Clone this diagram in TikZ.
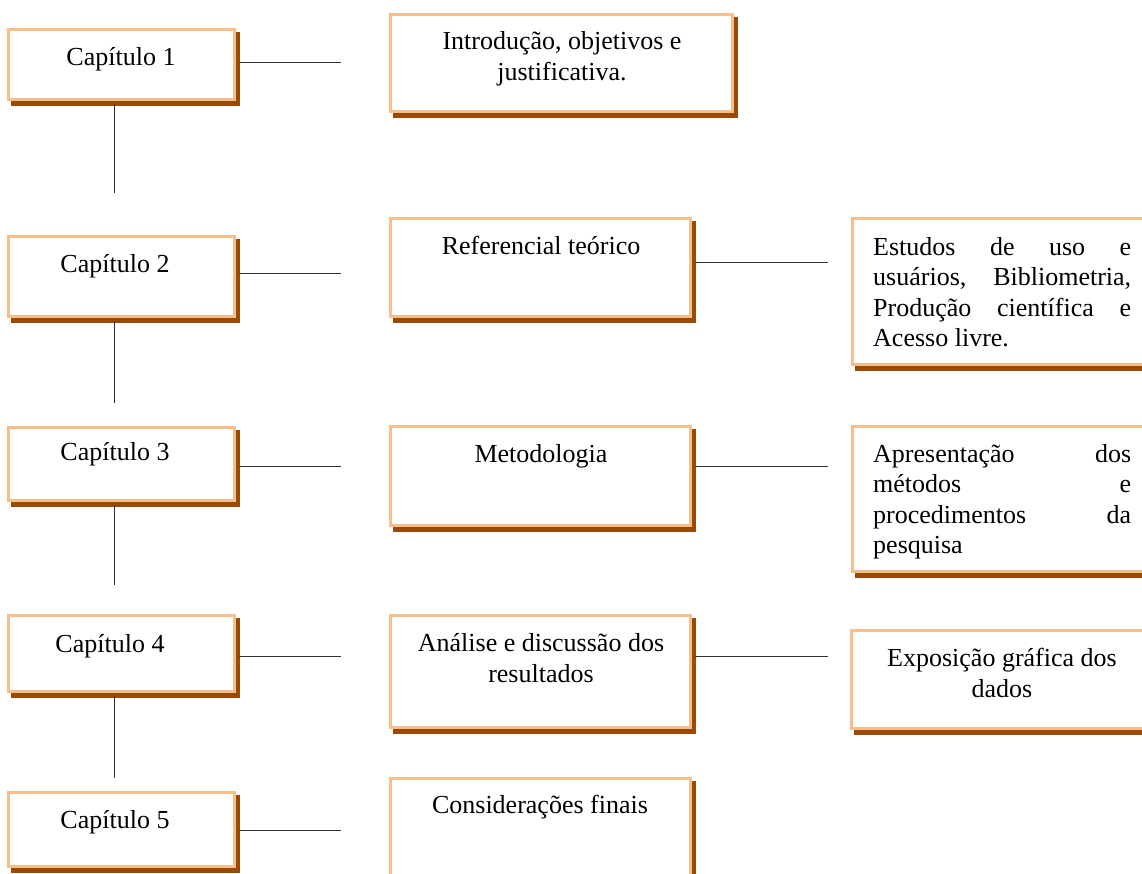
\documentclass[tikz,border=0pt]{standalone}
\usepackage{fontspec}
\setmainfont{Liberation Serif}
\definecolor{bordc}{HTML}{F7BD8A}
\definecolor{shadc}{HTML}{9A4A04}
\definecolor{linec}{HTML}{333333}
\tikzset{
  cbox/.style={draw=bordc, line width=3pt, fill=white, inner sep=0pt, outer sep=0pt},
  txt/.style={inner sep=0pt, font=\fontsize{26}{30.5}\selectfont, text=black},
  jtxt/.style={txt, text width=258pt, align=justify},
  conn/.style={draw=linec, line width=1pt}
}
\newcommand\cbx[5]{%
  \fill[shadc] (#2+4,#3+4) rectangle (#4+4,#5+5);
  \node[cbox, minimum width={#4-#2-3}, minimum height={#5-#3-3}] (#1) at ({(#2+#4)/2},{(#3+#5)/2}) {};
}
\begin{document}
\begin{tikzpicture}[x=1pt,y=-1pt]
\useasboundingbox (0,0) rectangle (1142,873);
% boxes
\cbx{c1}{7}{28}{236}{101}
\cbx{c2}{7}{235}{236}{318}
\cbx{c3}{7}{426}{236}{502}
\cbx{c4}{7}{614}{236}{693}
\cbx{c5}{7}{791}{236}{868}
\cbx{intro}{389}{13}{734}{113}
\cbx{ref}{389}{217}{692}{318}
\cbx{met}{389}{425}{692}{527}
\cbx{ana}{389}{614}{692}{729}
\cbx{con}{389}{777}{692}{900}
\cbx{est}{851}{217}{1160}{366}
\cbx{apr}{851}{425}{1160}{573}
\cbx{exp}{850}{629}{1160}{730}
% texts
\node[txt, anchor=base] (c1t) at (121,65) {Capítulo 1};
\node[txt, anchor=base] (c2t) at (115,272) {Capítulo 2};
\node[txt, anchor=base] (c3t) at (115,460) {Capítulo 3};
\node[txt, anchor=base] (c4t) at (110,652) {Capítulo 4};
\node[txt, anchor=base] (c5t) at (115,828) {Capítulo 5};
\node[txt, anchor=base, align=center] (introt) at (562,80) {Introdução, objetivos e\\justificativa.};
\node[txt, anchor=base] (reft) at (541,254) {Referencial teórico};
\node[txt, anchor=base] (mett) at (541,462) {Metodologia};
\node[txt, anchor=base, align=center] (anat) at (541,682) {Análise e discussão dos\\resultados};
\node[txt, anchor=base] (cont) at (540,813) {Considerações finais};
\node[jtxt, anchor=base west] (estt) at (873,255) {Estudos de uso e\linebreak usuários, Bibliometria,\linebreak Produção científica e\linebreak Acesso livre.};
\node[jtxt, anchor=base west] (aprt) at (873,462) {Apresentação dos\linebreak métodos e\linebreak procedimentos da\linebreak pesquisa};
\node[txt, anchor=base, align=center] (expt) at (1002,697) {Exposição gráfica dos\\dados};
% free ends
\coordinate (h1) at (341,62);
\coordinate (h2) at (341,273);
\coordinate (h3) at (341,466);
\coordinate (h4) at (341,656);
\coordinate (h5) at (341,830);
\coordinate (r2) at (828,262);
\coordinate (r3) at (828,466);
\coordinate (r4) at (828,656);
\coordinate (v1) at (114,193);
\coordinate (v2) at (114,403);
\coordinate (v3) at (114,585);
\coordinate (v4) at (114,778);
% connectors
\draw[conn] ([xshift=4pt]c1.east |- h1) -- (h1);
\draw[conn] ([xshift=4pt]c2.east |- h2) -- (h2);
\draw[conn] ([xshift=4pt]c3.east |- h3) -- (h3);
\draw[conn] ([xshift=4pt]c4.east |- h4) -- (h4);
\draw[conn] ([xshift=4pt]c5.east |- h5) -- (h5);
\draw[conn] ([xshift=4pt]ref.east |- r2) -- (r2);
\draw[conn] ([xshift=4pt]met.east |- r3) -- (r3);
\draw[conn] ([xshift=4pt]ana.east |- r4) -- (r4);
\draw[conn] ([yshift=-4pt]c1.south -| v1) -- (v1);
\draw[conn] ([yshift=-4pt]c2.south -| v2) -- (v2);
\draw[conn] ([yshift=-4pt]c3.south -| v3) -- (v3);
\draw[conn] ([yshift=-4pt]c4.south -| v4) -- (v4);
\end{tikzpicture}
\end{document}
